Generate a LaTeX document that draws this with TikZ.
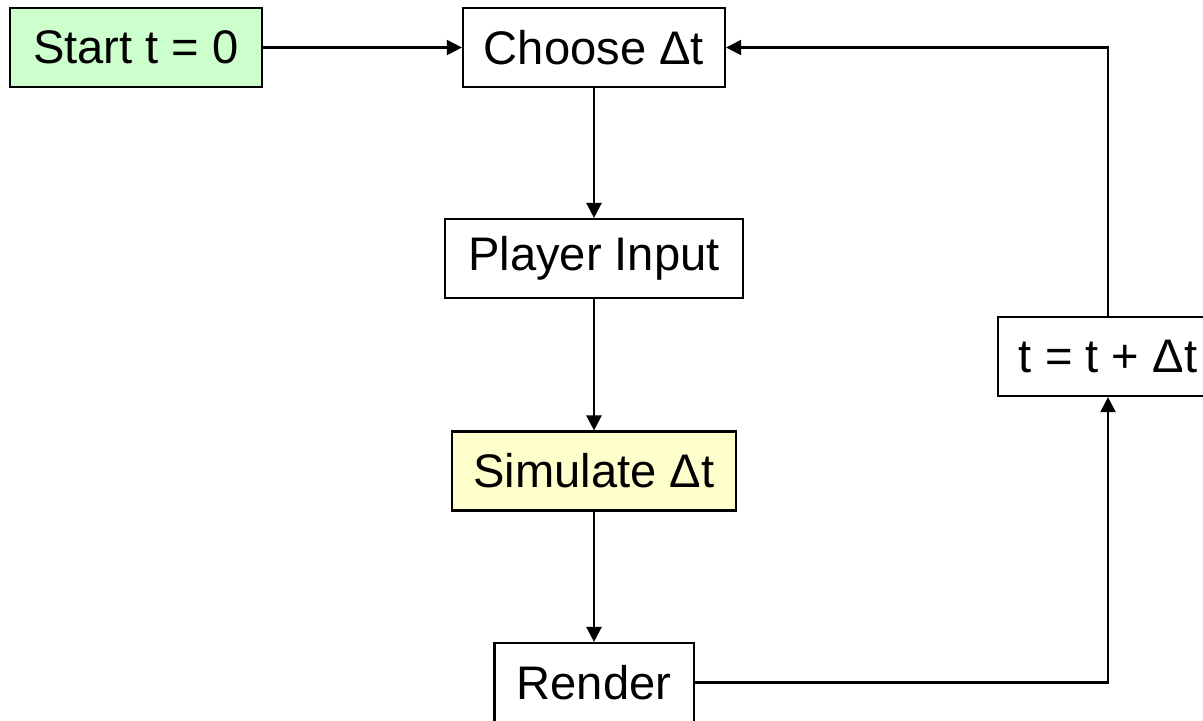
\documentclass[tikz,border=0pt]{standalone}
\usepackage{fontspec}
\setmainfont{Liberation Sans}
\usetikzlibrary{arrows.meta}
\definecolor{StartGreen}{RGB}{204, 255, 204}
\definecolor{SimYellow}{RGB}{255, 255, 204}
\tikzset{
    box/.style={draw, line width=0.6pt, inner sep=0pt, minimum height=0.79cm,
        align=center, font=\fontsize{13.4}{16}\selectfont},
    flow/.style={line width=0.65pt, -{Triangle[length=0.15cm, width=0.15cm]}}
}

\begin{document}
\begin{tikzpicture}[x=0.01cm, y=-0.01cm]
    \useasboundingbox (0,0) rectangle (1203,720);
    % loop boxes
    \node[box, fill=StartGreen, minimum width=2.51cm] (start) at (136,47.5) {Start t = 0};
    \node[box, minimum width=2.62cm] (choose) at (594,47.5) {Choose Δt};
    \node[box, minimum width=2.98cm] (input) at (594,258.5) {Player Input};
    \node[box, fill=SimYellow, minimum width=2.84cm] (simulate) at (594,471) {Simulate Δt};
    \node[box, minimum width=1.99cm] (render) at (594,682.5) {Render};
    \node[box, minimum width=2.20cm] (advance) at (1108,356.5) {t = t + Δt};
    % arrows
    \draw[flow] (start) -- (choose);
    \draw[flow] (choose) -- (input);
    \draw[flow] (input) -- (simulate);
    \draw[flow] (simulate) -- (render);
    \draw[flow] (render.east) -| (advance.south);
    \draw[flow] (advance.north) |- (choose.east);
\end{tikzpicture}
\end{document}
